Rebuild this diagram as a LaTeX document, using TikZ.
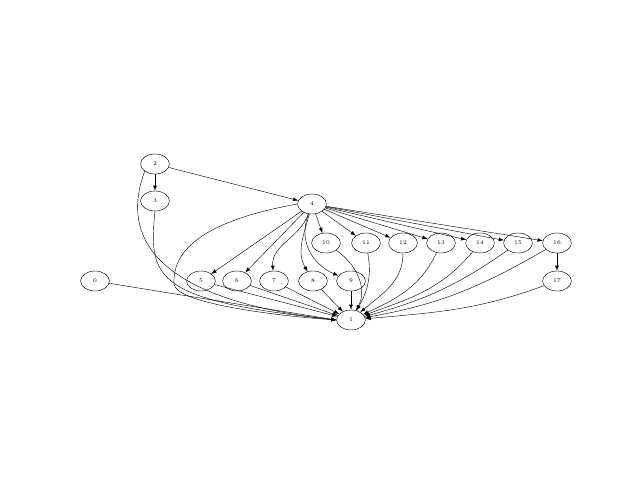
\documentclass[tikz,border=0pt]{standalone}
\usepackage{tikz}
\usetikzlibrary{shapes}
\usetikzlibrary{arrows}
\tikzset{
  graphnode/.style = {align=center, inner sep=0pt, text centered,
    font=\fontsize{4pt}{5pt}\selectfont},
  dot_node/.style = {graphnode, ellipse, black, draw=black,
    minimum width=0.72cm, minimum height=0.5cm, line width=0.3pt},% noeud
  dot_edge/.style = {-latex, line width=0.3pt, >=latex, shorten >=0pt}% arc
}

\begin{document}
\begin{tikzpicture}
  \useasboundingbox (0,0) rectangle (16,12);
  % noeuds
  \node [dot_node] (n2) at (3.875,7.9) {2};
  \node [dot_node] (n3) at (3.875,6.975) {3};
  \node [dot_node] (n4) at (7.8,6.9) {4};
  \node [dot_node] (n0) at (2.375,4.975) {0};
  \node [dot_node] (n5) at (5.025,4.975) {5};
  \node [dot_node] (n6) at (5.925,4.975) {6};
  \node [dot_node] (n7) at (6.85,4.975) {7};
  \node [dot_node] (n8) at (7.825,4.975) {8};
  \node [dot_node] (n9) at (8.775,4.975) {9};
  \node [dot_node] (n10) at (8.15,5.925) {10};
  \node [dot_node] (n11) at (9.15,5.925) {11};
  \node [dot_node] (n12) at (10.075,5.925) {12};
  \node [dot_node] (n13) at (11.025,5.925) {13};
  \node [dot_node] (n14) at (12.0,5.925) {14};
  \node [dot_node] (n15) at (12.95,5.925) {15};
  \node [dot_node] (n16) at (13.925,5.925) {16};
  \node [dot_node] (n17) at (13.925,4.975) {17};
  \node [dot_node] (n1) at (8.775,4.0) {1};
  % arcs
  \draw [dot_edge] (n2) -- (n3);
  \draw [dot_edge] (n2) -- (n4);
  \draw [dot_edge] (n2.south west) .. controls (3.2,6.6) and (3.1,4.6) .. (n1.west);
  \draw [dot_edge] (n3.south) .. controls (3.7,5.0) and (3.9,4.5) .. (n1.west);
  \draw [dot_edge] (n0) -- (n1.west);
  \draw [dot_edge] (n4.west) .. controls (5.2,6.5) and (4.3,5.8) .. (4.35,4.9)
    .. controls (4.4,4.4) and (7.0,4.1) .. (n1.west);
  \foreach \t in {5,6,10,11,12,13,14,15,16}
    \draw [dot_edge] (n4) -- (n\t);
  \draw [dot_edge] (n4) to[out=250, in=95] (n7);
  \draw [dot_edge] (n4) to[out=255, in=120] (n8);
  \draw [dot_edge] (n4) .. controls (7.4,5.8) and (8.0,5.3) .. (n9);
  \foreach \s in {5,6,7,8,9}
    \draw [dot_edge] (n\s) -- (n1);
  \draw [dot_edge] (n10) .. controls (8.9,5.4) and (9.2,4.8) .. (n1);
  \draw [dot_edge] (n11) to[out=-80, in=60] (n1);
  \draw [dot_edge] (n12) to[out=-90, in=40] (n1);
  \draw [dot_edge] (n13) to[out=-115, in=25] (n1);
  \draw [dot_edge] (n14) to[out=-130, in=20] (n1);
  \draw [dot_edge] (n15) to[out=-145, in=15] (n1);
  \draw [dot_edge] (n16) to[out=-150, in=10] (n1);
  \draw [dot_edge] (n16) -- (n17);
  \draw [dot_edge] (n17) to[out=-160, in=5] (n1);
\end{tikzpicture}
\end{document}
